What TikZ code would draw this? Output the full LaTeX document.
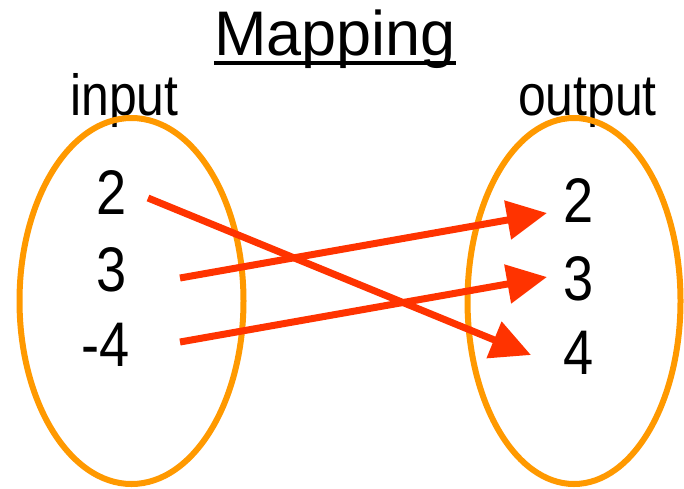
\documentclass[tikz,border=0pt]{standalone}
\usepackage{fontspec}
\setmainfont{Liberation Sans}
\usetikzlibrary{arrows.meta}
\definecolor{ringorange}{HTML}{FF9900}
\definecolor{arrowred}{HTML}{FF3300}
\newcommand{\narrow}[1]{\scalebox{0.86}[1]{#1}}
\tikzset{
  ring/.style={draw=ringorange, line width=6pt},
  maparrow/.style={draw=arrowred, line width=7pt, -{Triangle[length=40pt,width=38pt]}},
  digit/.style={anchor=base, inner sep=0pt, font=\fontsize{63}{70}\selectfont},
  label/.style={anchor=base, inner sep=0pt, font=\fontsize{58}{66}\selectfont},
  titletext/.style={anchor=base, inner sep=0pt, font=\fontsize{63}{70}\selectfont}
}
\begin{document}
\begin{tikzpicture}[x=1pt,y=-1pt]
\useasboundingbox (0,0) rectangle (684,488);
% title
\node[titletext] (title) at (335,55) {Mapping};
\draw[line width=4pt] ([yshift=-8pt]title.base west) -- ([yshift=-8pt]title.base east);
% labels
\node[label] (in) at (124.5,115) {\narrow{input}};
\node[label] (out) at (587.5,115) {\narrow{output}};
% ellipses
\draw[ring] (131.5,301) ellipse [x radius=112, y radius=183];
\draw[ring] (574,301) ellipse [x radius=106.5, y radius=183];
% left digits
\node[digit] (l2) at (111.5,214) {\narrow{2}};
\node[digit] (l3) at (112,291) {\narrow{3}};
\node[digit] (l4) at (105.5,366) {\narrow{-4}};
% right digits
\node[digit] (r2) at (579,222) {\narrow{2}};
\node[digit] (r3) at (579,300) {\narrow{3}};
\node[digit] (r4) at (579,374) {\narrow{4}};
% arrow endpoints
\coordinate (s2) at (148,198);
\coordinate (s3) at (180,278);
\coordinate (s4) at (180,342);
\coordinate (t4) at (531,355);
\coordinate (t2) at (547,213);
\coordinate (t3) at (547,277);
\draw[maparrow] (s2) -- (t4);
\draw[maparrow] (s3) -- (t2);
\draw[maparrow] (s4) -- (t3);
\end{tikzpicture}
\end{document}
